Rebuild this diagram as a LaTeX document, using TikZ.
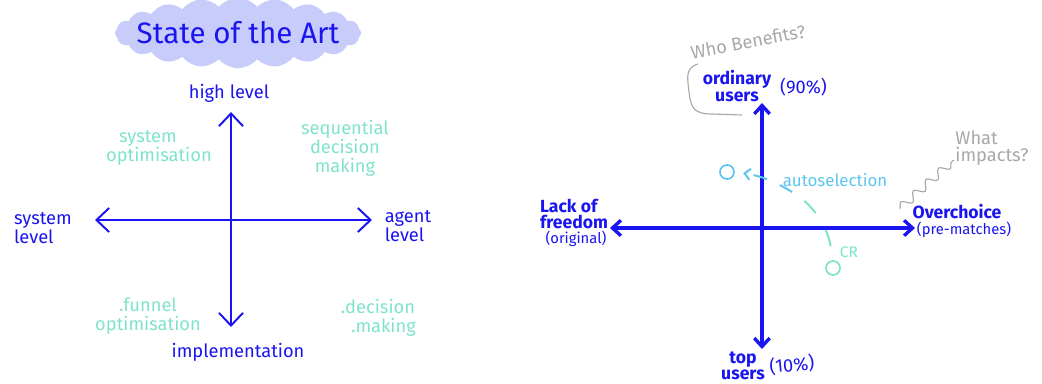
\documentclass[tikz,border=0pt]{standalone}
\usepackage{fontspec}
\setmainfont{Fira Sans}
\usetikzlibrary{arrows.meta,shapes.symbols,decorations.pathmorphing}
\definecolor{pen}{HTML}{1A14F0}
\definecolor{mint}{HTML}{7FE3CB}
\definecolor{sky}{HTML}{5CC6EE}
\definecolor{pencil}{HTML}{A8A8A8}
\definecolor{lilac}{HTML}{C8CCFA}

\begin{document}
\begin{tikzpicture}[x=0.025cm, y=-0.025cm,
  axis/.style={pen, line width=1.4pt,
    {Straight Barb[length=9pt,width=17pt]}-{Straight Barb[length=9pt,width=17pt]}},
  axisr/.style={pen, line width=2.4pt,
    {Straight Barb[length=6pt,width=11pt]}-{Straight Barb[length=6pt,width=11pt]}},
  lab/.style={pen, font=\fontsize{13}{13}\selectfont, inner sep=1pt, align=center},
  quad/.style={mint, font=\fontsize{13}{13.5}\selectfont, inner sep=1pt, align=center},
  pole/.style={pen, font=\fontsize{12.5}{11.5}\selectfont\bfseries, inner sep=1pt, align=center},
  note/.style={pen, font=\fontsize{10.5}{10}\selectfont, inner sep=1pt},
  ask/.style={pencil, font=\fontsize{13}{12}\selectfont, inner sep=1pt, align=left},
  dot/.style={circle, draw, line width=1.2pt, minimum size=10pt, inner sep=0pt},
]
\useasboundingbox (0,0) rectangle (1042,383);

% left: state of the art
\node[cloud, cloud puffs=20, cloud puff arc=100, aspect=3.6, fill=lilac,
  minimum width=175, minimum height=50, inner sep=0pt] (cld) at (238,33) {};
\node[pen, font=\fontsize{21}{21}\selectfont] (title) at (cld) {State of the Art};

\coordinate (lt) at (231,112);
\coordinate (lb) at (231,327);
\coordinate (ll) at (95,220);
\coordinate (lr) at (372,220);
\draw[axis] (lt) -- (lb);
\draw[axis] (ll) -- (lr);

\node[lab] (high) at (229,93) {high level};
\node[lab, align=left] (syslvl) at (43,228) {system\\level};
\node[lab, align=left] (agent) at (408,226) {agent\\level};
\node[lab] (impl) at (238,352) {implementation};

\node[quad] (sysopt) at (148,148) {system\\\hspace{1.2em}optimisation};
\node[quad] (seq) at (345,148) {sequential\\decision\\making};
\node[quad] (funnel) at (148,316) {.funnel\\optimisation};
\node[quad] (dec) at (378,318) {.decision\\\hspace{0.6em}.making};

% right: who benefits, what impacts
\coordinate (rt) at (762,103);
\coordinate (rb) at (762,349);
\coordinate (rl) at (610,228);
\coordinate (rr) at (915,228);
\draw[axisr] (rt) -- (rb);
\draw[axisr] (rl) -- (rr);

\node[pole] (ord) at (737,86) {ordinary\\users};
\node[note, font=\fontsize{13}{13}\selectfont, anchor=west] (ninety) at ([xshift=4]ord.east |- 0,87) {(90\%)};
\node[pole] (top) at (743,366) {top\\users};
\node[note, font=\fontsize{13}{13}\selectfont, anchor=west, rotate=5] (ten) at (768,367) {(10\%)};
\node[pole, align=left] (lack) at (574,214) {Lack of\\freedom};
\node[note] (orig) at (576,239) {(original)};
\node[pole] (over) at (957,212) {Overchoice};
\node[note] (prem) at (964,230) {(pre-matches)};

\node[ask, rotate=11] (who) at (748,42) {Who Benefits?};
\node[ask] (what) at (992,148) {What\\impacts?};
\draw[pencil, line width=0.8pt]
  (698,64) .. controls (684,68) and (688,80) .. (689,92)
  .. controls (691,106) and (692,114) .. (712,114) -- (742,115);
\draw[pencil, line width=0.8pt, decorate,
  decoration={snake, segment length=12, amplitude=3}]
  ([xshift=-8,yshift=-4]over.north west) -- (what.west |- 0,160);

\node[dot, sky] (auto) at (727,172) {};
\node[dot, mint] (cr) at (833,268) {};
\node[sky, font=\fontsize{12}{12}\selectfont] (autolab) at (835,180) {autoselection};
\node[mint, font=\fontsize{11}{11}\selectfont] (crlab) at (849,252) {CR};
\draw[mint, line width=1.4pt, dash pattern=on 12 off 14, shorten <=10]
  (cr.north) .. controls (828,230) and (815,205) .. (792,192);
\draw[sky, line width=1.4pt, dash pattern=on 10 off 10, shorten >=6,
  -{Straight Barb[length=4pt,width=8pt]}]
  (792,192) .. controls (776,182) and (762,176) .. (auto.east);
\end{tikzpicture}
\end{document}
